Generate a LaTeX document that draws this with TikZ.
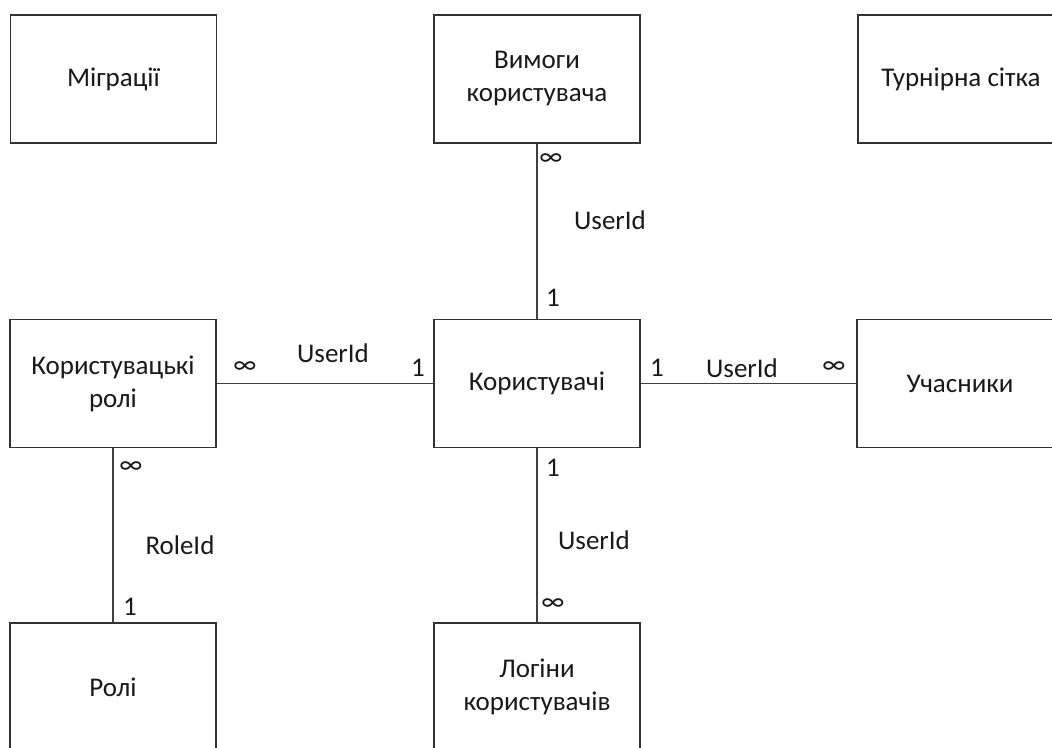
\documentclass[tikz,border=0pt]{standalone}
\usepackage{fontspec}
\setmainfont{Carlito}
\begin{document}
\begin{tikzpicture}[x=1pt,y=-1pt,
  ent/.style={draw=black!80, line width=1.6pt, fill=white, rectangle,
    minimum width=206pt, minimum height=128pt, inner sep=0pt,
    align=center, font=\fontsize{27}{33}\selectfont, text=black!90},
  rel/.style={draw=black!75, line width=1.6pt},
  lbl/.style={font=\fontsize{27}{33}\selectfont, text=black!90, inner sep=0pt}]
\clip (0,0) rectangle (1052,747);
% entities
\node[ent] (mig) at (113.5,79) {Міграції};
\node[ent] (vym) at (537,79) {Вимоги\\користувача};
\node[ent] (turn) at (961,79) {Турнірна сітка};
\node[ent] (kr) at (113,383.5) {Користувацькі\\ролі};
\node[ent] (users) at (537,383.5) {Користувачі};
\node[ent] (uch) at (960,383.5) {Учасники};
\node[ent] (roli) at (113,687) {Ролі};
\node[ent] (log) at (537,687) {Логіни\\користувачів};
% relations
\draw[rel] (vym.south) -- (users.north);
\draw[rel] (kr.east) -- (users.west);
\draw[rel] (users.east) -- (uch.west);
\draw[rel] (users.south) -- (log.north);
\draw[rel] (kr.south) -- (roli.north);
% labels
\node[lbl] (l1a) at (551,160) {∞};
\node[lbl] (l1b) at (610,220) {UserId};
\node[lbl] (l1c) at (553,298) {1};
\node[lbl] (l2a) at (245,368) {∞};
\node[lbl] (l2b) at (333,353) {UserId};
\node[lbl] (l2c) at (418,368) {1};
\node[lbl] (l3a) at (657,368) {1};
\node[lbl] (l3b) at (742,368) {UserId};
\node[lbl] (l3c) at (834,368) {∞};
\node[lbl] (l4a) at (553,468) {1};
\node[lbl] (l4b) at (594,540) {UserId};
\node[lbl] (l4c) at (553,605) {∞};
\node[lbl] (l5a) at (131,468) {∞};
\node[lbl] (l5b) at (180,545) {RoleId};
\node[lbl] (l5c) at (130,607) {1};
\end{tikzpicture}
\end{document}
